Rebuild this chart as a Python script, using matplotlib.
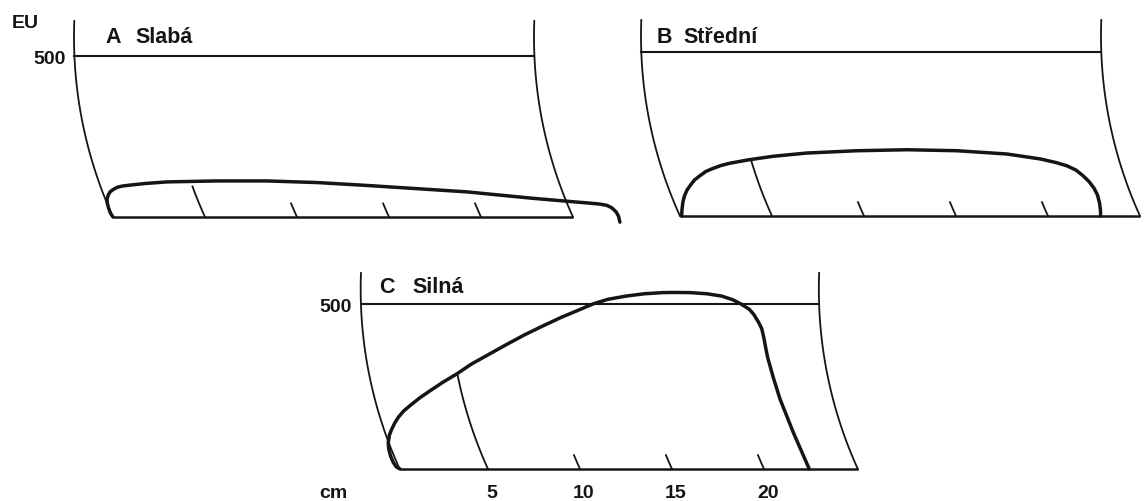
import matplotlib.pyplot as plt
import numpy as np

# extensogram curves (cm, EU)
slaba_cm = [0.0, -0.14, -0.24, -0.31, -0.32, -0.26, -0.16, 0.0, 0.22, 0.49, 0.92, 1.74, 2.93,
            5.65, 8.37, 11.09, 13.8, 16.52, 19.24, 21.03, 22.83, 24.46, 25.92, 26.47, 26.85,
            27.12, 27.34, 27.47, 27.55]
slaba_eu = [0, 12, 28, 43, 56, 68, 78, 85, 92, 96, 99, 104, 109,
            112, 112, 107, 98, 88, 78, 68, 58, 50, 43, 40, 36,
            28, 16, 3, -16]

stredni_cm = [0.09, 0.11, 0.16, 0.24, 0.38, 0.54, 0.79, 1.09, 1.41, 1.79, 2.23, 2.72, 3.7,
              5.05, 6.9, 9.62, 12.34, 15.05, 17.77, 19.57, 20.43, 21.03, 21.52, 21.9, 22.23,
              22.5, 22.69, 22.8, 22.85, 22.86]
stredni_eu = [0, 21, 43, 61, 79, 92, 110, 123, 136, 145, 154, 161, 171,
              182, 192, 199, 202, 199, 189, 174, 163, 153, 140, 123, 105,
              85, 64, 40, 18, 0]

silna_cm = [0.22, 0.02, -0.15, -0.3, -0.4, -0.42, -0.36, -0.23, -0.06, 0.13, 0.42, 0.76, 1.3,
            1.85, 2.55, 3.3, 4.1, 5.0, 6.0, 7.0, 8.0, 9.0, 9.9, 10.7, 11.5, 12.5, 13.5, 14.5,
            15.1, 16.0, 16.9, 17.7, 18.3, 18.75, 19.2, 19.45, 19.7, 19.88, 20.0, 20.1, 20.2,
            20.5, 20.87, 21.59, 22.46]
silna_eu = [0, 6, 20, 40, 62, 81, 103, 121, 140, 157, 176, 192, 216,
            237, 263, 288, 318, 346, 377, 407, 434, 460, 481, 500, 514, 524, 531, 534.5,
            535, 534.5, 531, 524, 513, 500, 484, 468, 445, 425, 395, 365, 338,
            278, 212, 111, 0]

panel_letters = ['A', 'B', 'C']
panel_names = ['Slabá', 'Střední', 'Silná']
long_tick_top = [95, 168, 288]
tick_cm = [5, 10, 15, 20]
tick_labels = ['5', '10', '15', '20']
ref_level = 500

# layout (pixels of the 1144x502 picture)
W, H = 1144, 502
PX_CM = 18.4
ARC_R, ARC_HC, ARC_SHIFT, ARC_TOP = 435.0, 180.0, 39.0, 196.0

fig = plt.figure(figsize=(W / 100, H / 100), dpi=100)
plt.rcParams['font.family'] = ['Liberation Sans', 'DejaVu Sans']
INK = '#151515'


def panel_axes(x0, y0, sy, xlim, ylim):
    left = x0 + xlim[0] * PX_CM
    right = x0 + xlim[1] * PX_CM
    top = y0 - ylim[1] * sy
    bottom = y0 - ylim[0] * sy
    ax = fig.add_axes([left / W, 1 - bottom / H, (right - left) / W, (bottom - top) / H])
    ax.set_xlim(xlim)
    ax.set_ylim(ylim)
    ax.axis('off')
    return ax


def arc_x(base, h, sy):
    # pen swing arc of the recording paper
    hp = np.asarray(h) * sy
    return base + (ARC_R - ARC_SHIFT - np.sqrt(ARC_R ** 2 - (hp - ARC_HC) ** 2)) / PX_CM


def draw_panel(ax, sy, curve_x, curve_y, left, right, long_top, letter, name, title_pos):
    top = ARC_TOP / sy
    h = np.linspace(0, top, 80)
    for base in (left, right):
        ax.plot(arc_x(base, h, sy), h, color=INK, lw=1.3, clip_on=False)
    ax.plot([arc_x(left, ref_level, sy), arc_x(right, ref_level, sy)], [ref_level, ref_level],
            color=INK, lw=1.5, clip_on=False)
    ax.plot([left, right], [0, 0], color=INK, lw=1.8, clip_on=False, solid_capstyle='butt')
    for i, t in enumerate(tick_cm):
        ht = np.linspace(0, long_top if i == 0 else 42, 30)
        ax.plot(arc_x(t, ht, sy), ht, color=INK, lw=1.3, clip_on=False)
    ax.plot(curve_x, curve_y, color=INK, lw=2.5, clip_on=False,
            solid_joinstyle='round', solid_capstyle='round')
    ax.text(title_pos[0], title_pos[2], letter, ha='center', va='baseline', fontsize=15.5,
            fontweight='bold', color=INK)
    ax.text(title_pos[1], title_pos[2], name, ha='left', va='baseline', fontsize=15.5,
            fontweight='bold', color=INK)


# A
sy_a = 0.322
ax_a = panel_axes(113, 218, sy_a, (-6, 29), (-60, 660))
draw_panel(ax_a, sy_a, slaba_cm, slaba_eu, 0, 25, long_tick_top[0],
           panel_letters[0], panel_names[0], (0.03, 1.2, 543))
ax_a.text(-5.49, 590, 'EU', ha='left', va='baseline', fontsize=14, fontweight='bold', color=INK)
ax_a.text(-2.55, 479, '500', ha='right', va='baseline', fontsize=14, fontweight='bold', color=INK)

# B
sy_b = 0.328
ax_b = panel_axes(680, 217, sy_b, (-3, 25.3), (-60, 660))
draw_panel(ax_b, sy_b, stredni_cm, stredni_eu, 0, 25, long_tick_top[1],
           panel_letters[1], panel_names[1], (-0.87, 0.16, 530))

# C
sy_c = 0.33
ax_c = panel_axes(396, 470, sy_c, (-4, 26), (-100, 640))
draw_panel(ax_c, sy_c, silna_cm, silna_eu, 0.2, 25.1, long_tick_top[2],
           panel_letters[2], panel_names[2], (-0.52, 0.87, 536))
ax_c.text(-2.39, 479, '500', ha='right', va='baseline', fontsize=14, fontweight='bold', color=INK)
ax_c.text(-3.42, -85, 'cm', ha='center', va='baseline', fontsize=14, fontweight='bold', color=INK)
for t, lab in zip(tick_cm, tick_labels):
    ax_c.text(t + 0.2, -85, lab, ha='center', va='baseline', fontsize=14, fontweight='bold', color=INK)

fig.savefig('out.png', dpi=100, facecolor='white')
